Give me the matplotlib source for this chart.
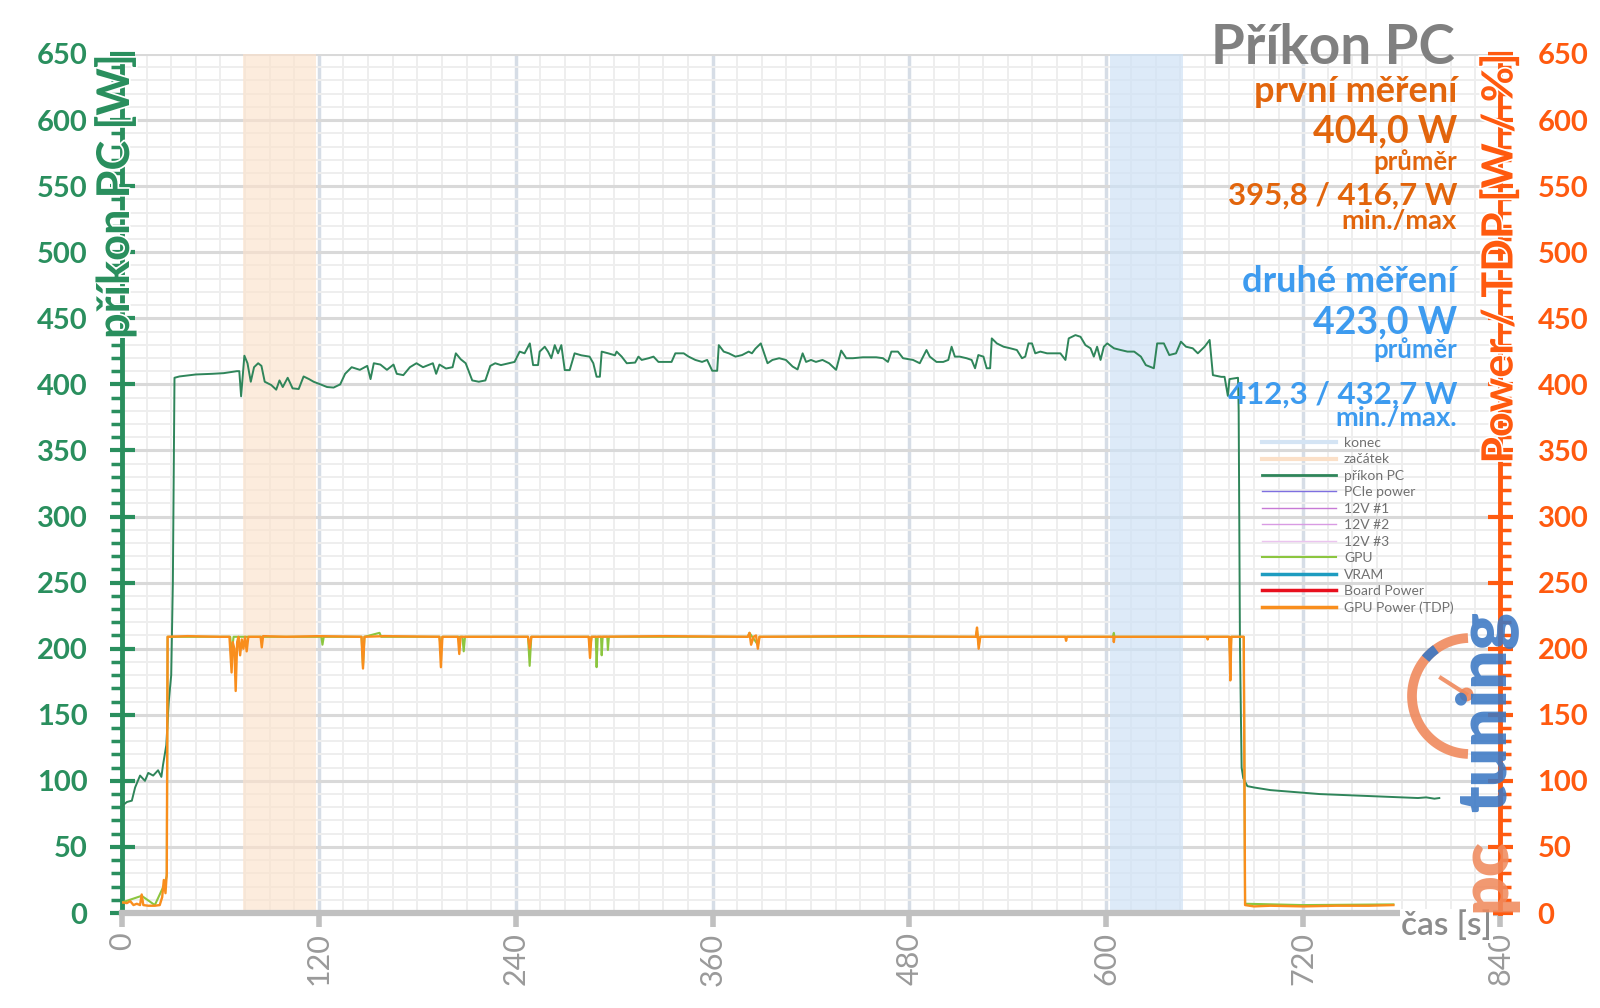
import matplotlib
matplotlib.use('Agg')
import matplotlib.pyplot as plt
import matplotlib.patheffects as pe
from matplotlib.lines import Line2D
from matplotlib.ticker import MultipleLocator
import numpy as np

plt.rcParams['font.family'] = ['Lato', 'DejaVu Sans']

# ---------------- data ----------------
pc_t = [0, 3, 6, 8, 11, 14, 16, 19, 22, 24, 25, 27, 28.5, 30, 31, 32, 35, 45, 55, 62, 70, 71.5,
        72.6, 74.6, 76.5, 78.5, 80.5, 83, 85, 87, 91, 94, 96, 98, 101, 104, 107.7, 110.7, 114,
        116.8, 121, 125, 129, 133, 136, 140, 145, 149.5, 151.5, 153.5, 157.5, 161.5, 165.5,
        167.5, 171.5, 175.5, 179.5, 183.5, 189.5, 191.5, 193.5, 197.5, 201.5, 203.5, 206.5,
        209.5, 213.5, 217.5, 221.5, 224.5, 227.5, 231, 239.3, 242.4, 245.4, 248.6, 250.6,
        253.6, 254.6, 257.7, 259.7, 261.7, 263.8, 265.8, 267.8, 269.9, 272.9, 275.9, 280, 285,
        287.3, 289.3, 291.3, 292.4, 296.4, 300.5, 301.5, 304.6, 307.7, 312.8, 314.8, 316.8,
        321, 324, 327, 331, 335, 337.3, 342.4, 345.4, 349.5, 353.6, 356.7, 359.8, 362.8,
        363.8, 366.8, 369.9, 374, 378, 382, 384, 386.1, 389.4, 393.5, 396.5, 400.6, 404.7,
        408.8, 411.8, 414.9, 417, 420, 423, 427, 431, 435.3, 438.4, 441.5, 445.5, 451.6,
        459.8, 463.9, 466.9, 469, 473, 476.1, 482.2, 486.3, 490.4, 492.4, 496.5, 500.6,
        503.7, 505.7, 507.7, 510.7, 514.8, 517.9, 520, 522, 525.1, 527.1, 529.2, 530.2,
        533.3, 537.4, 541.5, 545.5, 548.6, 550.6, 552.6, 554.7, 556.7, 559.8, 563.9, 568,
        572, 575.1, 577.1, 581.2, 584.3, 587.3, 590.4, 592.4, 594.4, 596.5, 598.5, 600.6,
        604.7, 608.8, 612.9, 617, 621.1, 624.1, 629, 631, 635.1, 638.4, 642.5, 645.5, 648.6,
        652.7, 655.8, 659.9, 663, 665, 670.1, 672.1, 674.1, 675.1, 680.3, 680.7, 681.5,
        682.5, 683.5, 686, 690, 700, 710, 720, 730, 740, 750, 760, 770, 780, 790, 795, 800, 803]
pc_w = [81, 84, 85, 95, 104, 100, 106, 104, 108, 103, 112, 127, 160, 180, 250, 405, 406, 407.5,
        408, 408.5, 410, 410, 391, 421.7, 416, 402, 413, 416, 414, 402, 399.5, 396, 403, 398,
        405, 397, 396.5, 406, 404, 402, 400, 398, 397.6, 400, 408, 413, 411, 414, 404, 416,
        415, 411, 415, 408, 407, 413, 416, 413, 416, 408, 415, 412, 413, 423.5, 419, 416, 403,
        402, 403, 414, 416, 414.6, 417, 424.8, 423.5, 431, 414.6, 414.6, 424.8, 428.5, 424.8,
        419.8, 429.7, 423.5, 429.7, 410.8, 410.8, 423.5, 422, 421, 416, 405.8, 405.8, 424.8,
        423.5, 422, 424.8, 421, 416, 416.5, 421, 418.5, 419.8, 421, 417, 417, 417, 423.5,
        423.5, 421, 418.5, 417, 418.5, 410.3, 410.3, 429.7, 424.8, 423.5, 421, 422.2, 424.8,
        423.5, 427, 431, 416, 418.5, 419.8, 418.5, 413.5, 411.3, 423.5, 417, 418.5, 417,
        418.5, 416, 411, 425.6, 419.8, 419.8, 420.5, 420.5, 419.8, 417, 424.8, 424.8, 419.8,
        418.5, 416, 426, 421, 417, 417, 418.5, 428.5, 421, 421, 419.8, 418.5, 412.2, 422.2,
        421, 412.2, 412.2, 434.8, 431, 428.5, 427.3, 426, 419.8, 421, 431, 431, 423.5, 424.8,
        423.5, 423.5, 423.5, 418.5, 434.8, 437.3, 436, 429.7, 427.3, 421, 428.5, 418.5, 428.5,
        431, 427.3, 426, 424.8, 424.8, 421, 414.6, 412.2, 431, 431, 422.2, 423.5, 432.3,
        428.5, 427.3, 423.5, 428.5, 433.6, 407, 405.7, 405.7, 391.3, 404, 405, 380, 200, 110,
        102, 96, 95, 93, 92, 91, 90, 89.5, 89, 88.5, 88, 87.5, 87, 87.5, 86.5, 87]

tdp_t = [0, 3, 5, 7, 9, 11, 12, 13, 16, 20, 23, 24.5, 25.5, 26.5, 27.3, 27.8, 40, 60, 65.5, 66.8,
         67.5, 68.5, 69.3, 70.2, 71, 72, 73, 74, 75, 76, 77, 84.5, 85.2, 86, 100, 120, 146,
         146.9, 147.8, 160, 193.5, 194.4, 195.3, 204.8, 205.6, 206.4, 247.5, 248.5, 249.5,
         284.5, 285.3, 286.1, 330, 381.5, 382.5, 383.5, 385, 386.5, 387.6, 388.6, 450, 520.5,
         521.2, 522.2, 523.2, 575, 575.5, 576, 604.3, 604.6, 605, 661.5, 661.8, 662.2, 675,
         675.6, 676.2, 683.8, 684.6, 690, 700, 720, 740, 760, 775]
tdp_w = [8, 7.5, 9, 6, 7, 6, 14, 6, 5.5, 5.5, 6, 12, 25, 15, 30, 209, 209.5, 209, 209, 182,
         205, 200, 168, 205, 209, 195, 207, 200, 209, 198, 209, 209, 201, 209.5, 209, 209.5,
         209, 185, 209, 209.5, 209, 186, 209, 209, 196, 209, 209, 200, 209, 209, 193, 209,
         209.5, 209, 212, 203, 209, 210, 200, 209, 209.5, 209, 216, 200, 209, 209, 206, 209,
         209, 205, 209, 209, 207, 209, 209, 176, 209, 209, 6, 5, 5.5, 5, 5.5, 5.5, 6]

gpu_t = [0, 12, 20, 26, 27.3, 27.8, 66, 66.8, 68, 121.5, 122.2, 123, 146, 146.9, 147.8, 157,
         158, 193.5, 194.4, 195.3, 207.5, 208.3, 209.1, 247.5, 248.5, 249.5, 284.5, 285.3,
         286.3, 288.8, 289.3, 290, 292, 292.4, 293, 295.8, 296.2, 296.8, 381.5, 382.5, 387.6,
         388.6, 520.5, 521.2, 522.2, 523.2, 604, 604.6, 605, 675, 675.6, 676.2, 683.8, 684.6,
         720, 775]
gpu_w = [8, 13, 6, 22, 28, 209, 209, 195, 209, 209, 203, 209, 209, 187, 209, 212, 209, 209,
         200, 209, 209, 198, 209, 209, 187, 209, 209, 200, 209, 209, 186, 209, 209, 195, 209,
         209, 199, 209, 209, 212, 203, 209, 209, 214, 203, 209, 209, 212, 209, 209, 190, 209,
         209, 7, 6, 6.5]

start_band = (74, 118)   # "začátek"
end_band = (602, 647)    # "konec"

x_ticks = [0, 120, 240, 360, 480, 600, 720, 840]
y_ticks = [0, 50, 100, 150, 200, 250, 300, 350, 400, 450, 500, 550, 600, 650]

first_texts = ["první měření", "404,0 W", "průměr", "395,8 / 416,7 W", "min./max"]
second_texts = ["druhé měření", "423,0 W", "průměr", "412,3 / 432,7 W", "min./max."]

legend_labels = ["konec", "začátek", "příkon PC", "PCIe power", "12V #1", "12V #2", "12V #3",
                 "GPU", "VRAM", "Board Power", "GPU Power (TDP)"]

# ---------------- style ----------------
GREEN = '#2a8f5e'
LINE_GREEN = '#2f855a'
ORANGE_AX = '#ff5a0f'
ORANGE_TXT = '#e2650c'
BLUE_TXT = '#3d9bef'
TDP_COL = '#f98e1d'
GPU_COL = '#8cc63f'
GREY = '#9a9a9a'

W, H = 1600, 1008
fig = plt.figure(figsize=(16, 10.08), dpi=100)
x0, x1, y_top, y_bot = 122, 1500, 54, 913
ax = fig.add_axes([x0 / W, 1 - y_bot / H, (x1 - x0) / W, (y_bot - y_top) / H])
ax.set_xlim(0, 840)
ax.set_ylim(0, 650)
ax.set_axisbelow(True)

# grid
ax.xaxis.set_minor_locator(MultipleLocator(15))
ax.yaxis.set_minor_locator(MultipleLocator(10))
ax.grid(which='minor', axis='both', color='#eeeeee', lw=1.4, zorder=0)
ax.grid(which='major', axis='y', color='#d9d9d9', lw=2.2, zorder=0)
ax.grid(which='major', axis='x', color='#d6dde6', lw=2.5, zorder=0)

# bands
ax.axvspan(*start_band, color='#fbe2cc', alpha=0.65, lw=0, zorder=1)
ax.axvspan(*end_band, color='#cfe2f6', alpha=0.7, lw=0, zorder=1)

# PC power line
ax.plot(pc_t, pc_w, color=LINE_GREEN, lw=1.4, zorder=3)

# spines / ticks left & bottom
for s in ['top', 'right']:
    ax.spines[s].set_visible(False)
ax.spines['left'].set_color(GREEN)
ax.spines['left'].set_linewidth(3.5)
ax.spines['bottom'].set_color('#c0c0c0')
ax.spines['bottom'].set_linewidth(4.5)

ax.set_yticks(y_ticks)
ax.set_yticklabels([str(v) for v in y_ticks], fontweight='bold')
ax.tick_params(axis='y', which='major', direction='inout', length=18, width=3,
               color=GREEN, labelcolor=GREEN, labelsize=21, pad=16)
ax.tick_params(axis='y', which='minor', direction='out', length=8, width=2.5, color=GREEN)
ax.set_xticks(x_ticks)
ax.set_xticklabels([str(v) for v in x_ticks], rotation=90)
ax.tick_params(axis='x', which='major', direction='out', length=10, width=4,
               color='#c0c0c0', labelcolor=GREY, labelsize=22, pad=4)
ax.tick_params(axis='x', which='minor', length=0)

# right axis
ax2 = ax.twinx()
ax2.set_ylim(0, 650)
for s in ['top', 'left', 'bottom']:
    ax2.spines[s].set_visible(False)
ax2.spines['right'].set_color(ORANGE_AX)
ax2.spines['right'].set_linewidth(3.5)
ax2.yaxis.set_minor_locator(MultipleLocator(10))
ax2.set_yticks(y_ticks)
ax2.set_yticklabels([str(v) for v in y_ticks], fontweight='bold')
ax2.tick_params(axis='y', which='major', direction='inout', length=18, width=3,
                color=ORANGE_AX, labelcolor=ORANGE_AX, labelsize=21, pad=18)
ax2.tick_params(axis='y', which='minor', direction='out', length=8, width=2.5, color=ORANGE_AX)

ax2.plot(gpu_t, gpu_w, color=GPU_COL, lw=1.5, zorder=3)
ax2.plot(tdp_t, tdp_w, color=TDP_COL, lw=1.7, zorder=4)

# legend
legend_styles = [('#d4e4f4', 3), ('#fbe0c8', 3), (LINE_GREEN, 2), ('#7e6fe0', 1),
                 ('#c77ad6', 1), ('#d99be3', 1), ('#ebc4ef', 1), (GPU_COL, 1.5),
                 ('#1e9cc0', 2.5), ('#e8101e', 2.5), (TDP_COL, 2.5)]
handles = [Line2D([], [], color=c, lw=lw) for c, lw in legend_styles]
leg = ax2.legend(handles, legend_labels, loc='upper left',
                 bbox_to_anchor=(1262 / W, 1 - 437 / H), bbox_transform=fig.transFigure,
                 frameon=False, fontsize=10, handlelength=5.3, handletextpad=0.6,
                 labelspacing=0.32, borderpad=0, borderaxespad=0)
for t in leg.get_texts():
    t.set_color('#707070')

# axis labels
halo = [pe.withStroke(linewidth=2.5, foreground='white')]
fig.text(115 / W, 1 - 54 / H, "příkon PC [W]", rotation=90, ha='center', va='top',
         fontsize=32.5, fontweight='bold', color=GREEN, path_effects=halo)
fig.text(1499 / W, 1 - 54 / H, "Power / TDP [W / %]", rotation=90, ha='center', va='top',
         fontsize=31, fontweight='bold', color=ORANGE_AX, path_effects=halo)
fig.text(1492 / W, 1 - 926 / H, "čas [s]", ha='right', va='center', fontsize=24,
         fontweight='semibold', color='#8c8c8c',
         bbox=dict(facecolor='white', edgecolor='none', pad=1))

# title & stats
fig.text(1455 / W, 1 - 64 / H, "Příkon PC", ha='right', va='baseline', fontsize=39.5,
         fontweight='bold', color='#808080')
sizes = [26, 27, 18.5, 22.4, 19.7]
base1 = [101.7, 142, 170, 205, 229]
base2 = [291.7, 333, 358, 404, 426]
for txt, fs, b in zip(first_texts, sizes, base1):
    fig.text(1457 / W, 1 - b / H, txt, ha='right', va='baseline', fontsize=fs,
             fontweight='bold', color=ORANGE_TXT)
for txt, fs, b in zip(second_texts, sizes, base2):
    fig.text(1457 / W, 1 - b / H, txt, ha='right', va='baseline', fontsize=fs,
             fontweight='bold', color=BLUE_TXT)

# logo overlay (pctuning)
ov = fig.add_axes([0, 0, 1, 1], zorder=5)
ov.set_xlim(0, W)
ov.set_ylim(H, 0)
ov.axis('off')
ov.patch.set_alpha(0)
ov.text(1486, 912, "pc", rotation=90, ha='center', va='bottom', fontsize=50,
        fontweight='heavy', color='#f08a5d', alpha=0.88)
ov.text(1486, 812, "tuning", rotation=90, ha='center', va='bottom', fontsize=50,
        fontweight='heavy', color='#3b78c4', alpha=0.88)
cx, cy, r = 1470, 696, 58
th = np.radians(np.linspace(92, 268, 80))
ov.plot(cx + r * np.cos(th), cy - r * np.sin(th), color='#f08a5d', lw=7, alpha=0.9,
        solid_capstyle='butt')
th2 = np.radians(np.linspace(126, 140, 10))
ov.plot(cx + r * np.cos(th2), cy - r * np.sin(th2), color='#3b78c4', lw=7, alpha=0.9,
        solid_capstyle='butt')
ov.plot([1441, cx - 4], [678, cy - 2], color='#f08a5d', lw=3, alpha=0.9)
ov.plot([cx - 4], [cy - 2], 'o', color='#f08a5d', ms=9, alpha=0.9)

fig.savefig('out.png', dpi=100)
